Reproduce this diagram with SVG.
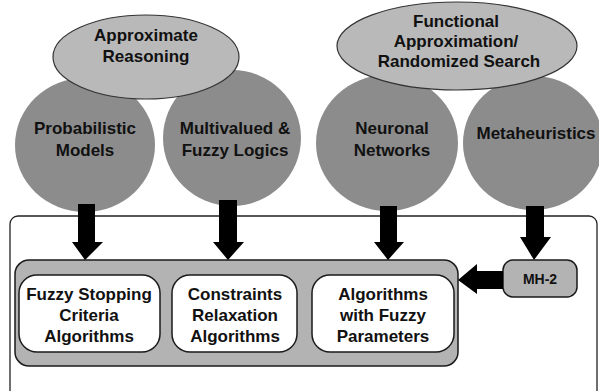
<svg xmlns="http://www.w3.org/2000/svg" width="599" height="391" viewBox="0 0 599 391">
<style>
.circ{fill:#8c8c8c;stroke:none}
.ell{fill:#b9b9b9;stroke:#333;stroke-width:1.2}
.panel{fill:#b3b3b3;stroke:#1a1a1a;stroke-width:1.5}
.box{fill:#ffffff;stroke:#1a1a1a;stroke-width:1.5}
.arr{fill:#000}
text{font-family:"Liberation Sans",Arial,sans-serif;font-weight:bold;font-size:17px;fill:#111;text-anchor:middle}
.sm{font-size:14px}
</style>
<rect id="outer" x="10" y="216" width="587" height="200" rx="8" fill="none" stroke="#222" stroke-width="1.3"/>
<g id="prob"><ellipse class="circ" cx="85" cy="145" rx="70" ry="67"/><text x="85" y="134">Probabilistic</text><text x="85" y="156">Models</text></g>
<g id="multi"><ellipse class="circ" cx="232" cy="138" rx="69" ry="68"/><text x="235" y="134">Multivalued &amp;</text><text x="235" y="156">Fuzzy Logics</text></g>
<g id="neuro"><ellipse class="circ" cx="387" cy="143" rx="71" ry="68"/><text x="392" y="134">Neuronal</text><text x="392" y="156">Networks</text></g>
<g id="meta"><ellipse class="circ" cx="533" cy="143" rx="70" ry="67"/><text x="536" y="139">Metaheuristics</text></g>
<g id="approx"><ellipse class="ell" cx="146" cy="57" rx="93" ry="42"/><text x="146" y="41">Approximate</text><text x="146" y="62">Reasoning</text></g>
<g id="func"><ellipse class="ell" cx="457" cy="46" rx="120" ry="44"/><text x="456" y="27">Functional</text><text x="456" y="47">Approximation/</text><text x="459" y="67">Randomized Search</text></g>
<g id="panel"><rect class="panel" x="15" y="260" width="443" height="106" rx="14"/></g>
<g id="fsc"><rect class="box" x="19" y="275" width="141" height="77" rx="18"/><text x="89" y="300">Fuzzy Stopping</text><text x="89" y="321">Criteria</text><text x="89" y="342">Algorithms</text></g>
<g id="cra"><rect class="box" x="172" y="275" width="125" height="77" rx="18"/><text x="235" y="300">Constraints</text><text x="235" y="321">Relaxation</text><text x="235" y="342">Algorithms</text></g>
<g id="afp"><rect class="box" x="312" y="275" width="142" height="77" rx="18"/><text x="383" y="300">Algorithms</text><text x="383" y="321">with Fuzzy</text><text x="383" y="342">Parameters</text></g>
<g id="mh2"><rect class="panel" x="503" y="260" width="74" height="37" rx="10"/><text class="sm" x="540" y="284">MH-2</text></g>
<g id="connectors">
<polygon class="arr" points="78,204 95,204 95,242 103,242 85,260 72,242 78,242"/>
<polygon class="arr" points="219,200 237,200 237,242 244,242 228,260 213,242 219,242"/>
<polygon class="arr" points="380,206 397,206 397,242 404,242 388,260 374,242 380,242"/>
<polygon class="arr" points="526,206 544,206 544,237 551,237 534,260 520,237 526,237"/>
<polygon class="arr" points="503,271 503,289 477,289 477,294 458,280 477,264 477,271"/>
</g>
</svg>
